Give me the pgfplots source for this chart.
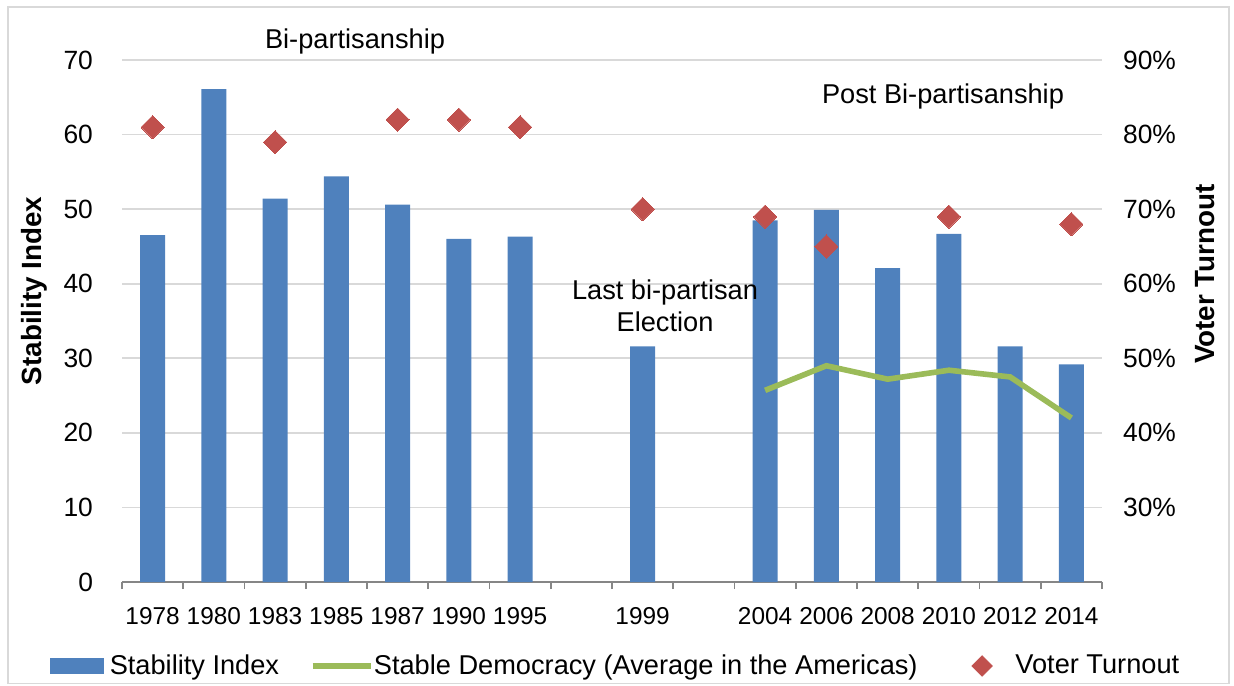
\documentclass[border=0pt]{standalone}
\usepackage{fontspec}
\setmainfont{Liberation Sans}
\usepackage{pgfplots}
\usepackage{pgfplotstable}
\pgfplotsset{compat=1.18}
\definecolor{barblue}{HTML}{4F81BD}
\definecolor{lgreen}{HTML}{9BBB59}
\definecolor{turnred}{HTML}{C0504D}
\definecolor{gridgray}{HTML}{D9D9D9}
\definecolor{axgray}{HTML}{868686}

\pgfplotstableread{
x val
0 46.5
1 66.1
2 51.4
3 54.4
4 50.6
5 46.0
6 46.3
8 31.6
10 48.5
11 49.9
12 42.1
13 46.7
14 31.6
15 29.2
}\stability

\pgfplotstableread{
x val
10 25.7
11 29.0
12 27.2
13 28.4
14 27.5
15 22.0
}\democracy

\pgfplotstableread{
x val
0 81
2 79
4 82
5 82
6 81
8 70
10 69
11 65
13 69
15 68
}\turnout

\begin{document}
\begin{tikzpicture}
\path[use as bounding box] (0,0) rectangle (617pt,342.5pt);
\draw[gridgray, line width=0.6pt] (4pt,339pt) rectangle (614.5pt,0.6pt);

\begin{axis}[
  at={(61pt,51.5pt)}, anchor=south west,
  scale only axis, width=490pt, height=261pt,
  xmin=-0.5, xmax=15.5, ymin=0, ymax=70,
  separate axis lines,
  axis x line*=bottom, axis y line*=left,
  x axis line style={axgray, line width=1.1pt},
  y axis line style={draw=none},
  ytick={0,10,...,70},
  ymajorgrids, grid style={gridgray, line width=0.9pt},
  ytick style={draw=none},
  xtick={-0.5,0.5,1.5,2.5,3.5,4.5,5.5,6.5,7.5,8.5,9.5,10.5,11.5,12.5,13.5,14.5,15.5},
  x tick label as interval,
  xticklabels={1978,1980,1983,1985,1987,1990,1995,{},1999,{},2004,2006,2008,2010,2012,2014},
  xtick style={axgray, line width=0.9pt},
  tick align=outside, major tick length=3.5pt,
  xticklabel style={font=\fontsize{12.2}{14}\selectfont, yshift=-5.5pt},
  yticklabel style={font=\fontsize{13.2}{15}\selectfont, xshift=-7.5pt},
  /pgf/number format/assume math mode=true,
]
\addplot[ybar, bar width=12.5pt, fill=barblue, draw=none] table[x=x,y=val]{\stability};
\addplot[lgreen, line width=2.8pt] table[x=x,y=val]{\democracy};
\end{axis}

\begin{axis}[
  at={(61pt,51.5pt)}, anchor=south west,
  scale only axis, width=490pt, height=261pt,
  xmin=-0.5, xmax=15.5, ymin=20, ymax=90,
  axis x line=none, axis y line*=right,
  y axis line style={draw=none},
  ytick={30,40,...,90},
  ytick style={draw=none},
  yticklabel={\pgfmathprintnumber{\tick}\%},
  yticklabel style={font=\fontsize{13.2}{15}\selectfont, xshift=7pt},
  /pgf/number format/assume math mode=true,
  legend columns=3,
  legend style={at={(-0.0735,-0.1609)}, anchor=west, draw=none, fill=none,
    inner sep=0pt, outer sep=0pt, nodes={inner sep=0pt},
    font=\fontsize{13.6}{16}\selectfont},
  legend cell align=left,
]
\addlegendimage{legend image code/.code={\fill[barblue] (0pt,-3.75pt) rectangle (26.5pt,3.75pt); \path (29.5pt,0pt);}}
\addlegendentry{Stability Index}
\addlegendimage{legend image code/.code={\path (-16.5pt,0pt); \draw[lgreen, line width=2.8pt] (0pt,0pt) -- (29pt,0pt); \path (30.5pt,0pt);}}
\addlegendentry{Stable Democracy (Average in the Americas)}
\addplot[only marks, color=turnred, mark=square*, mark size=4.1pt,
  mark options={rotate=45, fill=turnred, draw=turnred, line width=0pt},
  legend image code/.code={\path (-32pt,0pt); \fill[turnred, rotate=45] (-3.6pt,-3.6pt) rectangle (3.6pt,3.6pt); \path (16.5pt,0pt);}]
  table[x=x,y=val]{\turnout};
\addlegendentry{Voter Turnout}
\end{axis}

\node[font=\fontsize{13.6}{16}\selectfont] at (177.5pt,322pt) {Bi-partisanship};
\node[font=\fontsize{13.6}{16}\selectfont] at (471.5pt,294.5pt) {Post Bi-partisanship};
\node[font=\fontsize{13.6}{16}\selectfont, align=center] at (332.5pt,189.5pt) {Last bi-partisan\\Election};
\node[rotate=90, font=\bfseries\fontsize{13.9}{16}\selectfont] at (17pt,197pt) {Stability Index};
\node[rotate=90, font=\bfseries\fontsize{13.9}{16}\selectfont] at (602.5pt,205.5pt) {Voter Turnout};
\end{tikzpicture}
\end{document}
